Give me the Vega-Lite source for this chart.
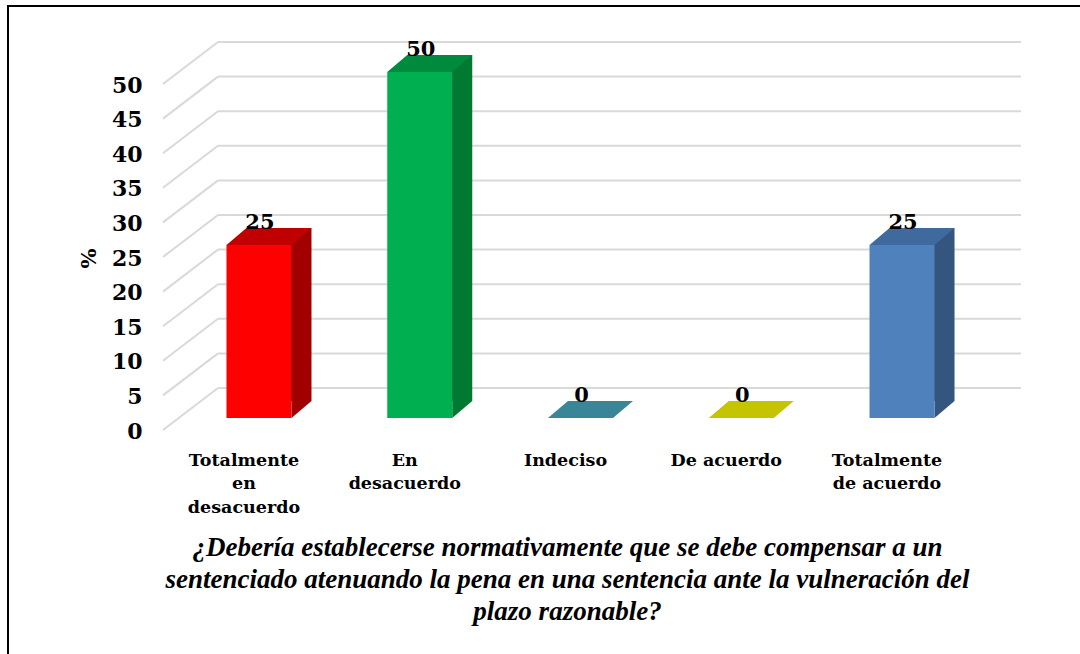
{
  "$schema": "https://vega.github.io/schema/vega-lite/v6.json",
  "autosize": {"type": "none"},
  "padding": {"left": 8, "top": 6, "right": 0, "bottom": 0},
  "width": 1140,
  "height": 654,
  "background": "white",
  "config": {
    "view": {"stroke": "black", "strokeWidth": 2},
    "font": "DejaVu Serif"
  },
  "datasets": {
    "bars": [
      {"c": "Totalmente en desacuerdo", "v": 25},
      {"c": "En desacuerdo", "v": 50},
      {"c": "Indeciso", "v": 0},
      {"c": "De acuerdo", "v": 0},
      {"c": "Totalmente de acuerdo", "v": 25}
    ],
    "grid": [
      {"v": 0}, {"v": 5}, {"v": 10}, {"v": 15}, {"v": 20}, {"v": 25},
      {"v": 30}, {"v": 35}, {"v": 40}, {"v": 45}, {"v": 50}
    ]
  },
  "encoding": {
    "y": {
      "field": "v",
      "type": "quantitative",
      "scale": {"domain": [0, 50], "range": [425, 79], "nice": false, "zero": true},
      "axis": {
        "title": "%",
        "titleFont": "DejaVu Serif",
        "titleFontSize": 21,
        "titleFontWeight": "bold",
        "titleColor": "black",
        "titlePadding": 12,
        "values": [0, 5, 10, 15, 20, 25, 30, 35, 40, 45, 50],
        "labelFont": "DejaVu Serif",
        "labelFontSize": 22,
        "labelFontWeight": "bold",
        "labelColor": "black",
        "labelPadding": 0,
        "tickSize": 0,
        "ticks": false,
        "domain": false,
        "grid": false,
        "offset": -134
      }
    },
    "x": {
      "field": "c",
      "type": "nominal",
      "sort": ["Totalmente en desacuerdo", "En desacuerdo", "Indeciso", "De acuerdo", "Totalmente de acuerdo"],
      "scale": {
        "domain": ["Totalmente en desacuerdo", "En desacuerdo", "Indeciso", "De acuerdo", "Totalmente de acuerdo"],
        "range": [170.6, 974.4],
        "paddingInner": 0,
        "paddingOuter": 0
      },
      "axis": {
        "title": ["¿Debería establecerse normativamente que se debe compensar a un", "sentenciado atenuando la pena en una sentencia ante la vulneración del", "plazo razonable?"],
        "titleFont": "Liberation Serif, Times New Roman, serif",
        "titleFontSize": 27,
        "titleFontWeight": "bold",
        "titleFontStyle": "italic",
        "titleColor": "black",
        "titleLineHeight": 32,
        "titlePadding": 19,
        "titleX": 559,
        "labelAngle": 0,
        "labelFont": "DejaVu Serif",
        "labelFontSize": 17.5,
        "labelFontWeight": "bold",
        "labelColor": "black",
        "labelLineHeight": 23.5,
        "labelPadding": 11,
        "labelOffset": -15,
        "labelExpr": "datum.value == 'Totalmente en desacuerdo' ? ['Totalmente', 'en', 'desacuerdo'] : datum.value == 'En desacuerdo' ? ['En', 'desacuerdo'] : datum.value == 'Totalmente de acuerdo' ? ['Totalmente', 'de acuerdo'] : datum.label",
        "ticks": false,
        "tickSize": 0,
        "domain": false,
        "grid": false,
        "offset": -220
      }
    }
  },
  "layer": [
    {
      "data": {"name": "grid"},
      "mark": {"type": "rule", "color": "#d9d9d9", "strokeWidth": 2, "xOffset": -41, "x2Offset": 119, "yOffset": -43},
      "encoding": {
        "x": {"datum": "Totalmente en desacuerdo", "type": "nominal"},
        "x2": {"datum": "Totalmente de acuerdo"}
      }
    },
    {
      "data": {"name": "grid"},
      "mark": {"type": "point", "shape": "M -1 0.7636 L 1 -0.7636", "filled": false, "stroke": "#d9d9d9", "strokeWidth": 2, "size": 3025, "opacity": 1, "xOffset": -68.5, "yOffset": -22},
      "encoding": {
        "x": {"datum": "Totalmente en desacuerdo", "type": "nominal"}
      }
    },
    {
      "data": {"name": "bars"},
      "mark": {"type": "bar", "width": 65, "xOffset": 20, "yOffset": -30, "y2Offset": -30},
      "encoding": {
        "color": {
          "field": "c", "type": "nominal", "legend": null,
          "scale": {
            "domain": ["Totalmente en desacuerdo", "En desacuerdo", "Indeciso", "De acuerdo", "Totalmente de acuerdo"],
            "range": ["#a00000", "#007a33", "#2a6a7c", "#9c9c00", "#34557e"]
          }
        }
      }
    },
    {
      "data": {"name": "bars"},
      "transform": [{"filter": "datum.v > 0"}],
      "mark": {"type": "point", "shape": "M -1 0.85 L -1 -0.85 L 1 -0.85 Z", "filled": true, "size": 400, "opacity": 1, "strokeWidth": 0, "xOffset": 42.5, "yOffset": -21.5},
      "encoding": {
        "y": {"datum": 0, "type": "quantitative"},
        "color": {
          "field": "c", "type": "nominal", "legend": null,
          "scale": {
            "domain": ["Totalmente en desacuerdo", "En desacuerdo", "Indeciso", "De acuerdo", "Totalmente de acuerdo"],
            "range": ["#a00000", "#007a33", "#2a6a7c", "#9c9c00", "#34557e"]
          }
        }
      }
    },
    {
      "data": {"name": "bars"},
      "mark": {"type": "point", "shape": "M -1 0.2 L 0.5294 0.2 L 1 -0.2 L -0.5294 -0.2 Z", "filled": true, "size": 7225, "opacity": 1, "strokeWidth": 0, "xOffset": 10, "yOffset": -21.5},
      "encoding": {
        "color": {
          "field": "c", "type": "nominal", "legend": null,
          "scale": {
            "domain": ["Totalmente en desacuerdo", "En desacuerdo", "Indeciso", "De acuerdo", "Totalmente de acuerdo"],
            "range": ["#c00000", "#008a3e", "#3a8598", "#c4c400", "#3f6a9e"]
          }
        }
      }
    },
    {
      "data": {"name": "bars"},
      "mark": {"type": "bar", "width": 65, "yOffset": -13, "y2Offset": -13},
      "encoding": {
        "color": {
          "field": "c", "type": "nominal", "legend": null,
          "scale": {
            "domain": ["Totalmente en desacuerdo", "En desacuerdo", "Indeciso", "De acuerdo", "Totalmente de acuerdo"],
            "range": ["#ff0000", "#00b050", "#31859c", "#c4c400", "#4f81bd"]
          }
        }
      }
    },
    {
      "data": {"name": "bars"},
      "mark": {"type": "text", "font": "DejaVu Serif", "fontSize": 21, "fontWeight": "bold", "color": "black", "baseline": "alphabetic", "align": "center", "yOffset": -29, "xOffset": 1},
      "encoding": {
        "text": {"field": "v", "type": "quantitative"}
      }
    }
  ],
  "resolve": {"scale": {"color": "independent"}}
}
